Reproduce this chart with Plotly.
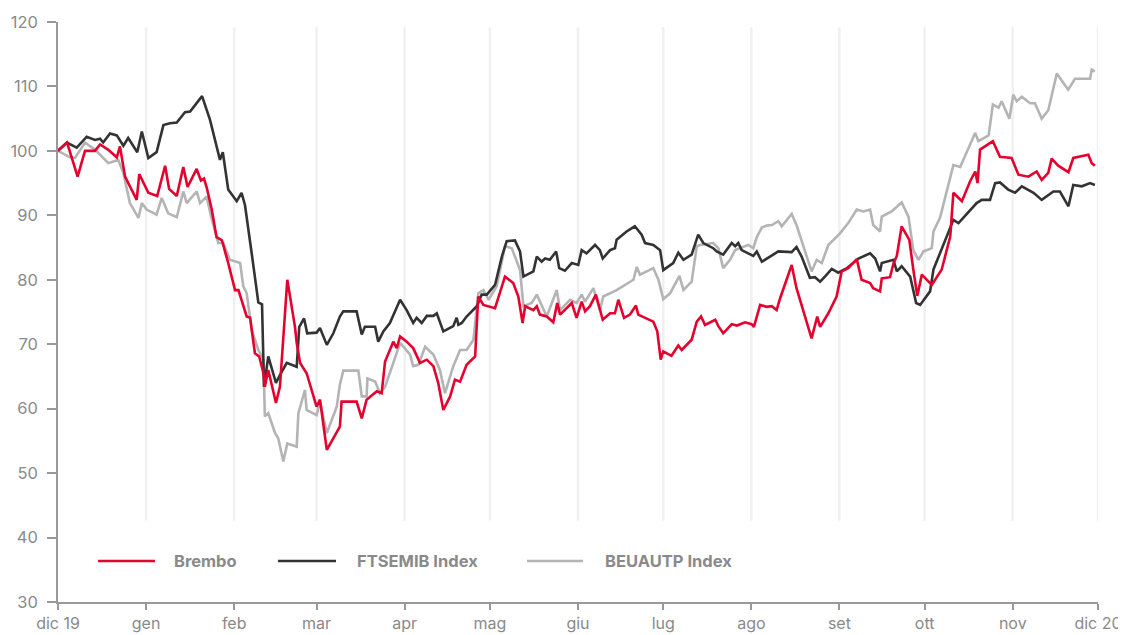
import pandas as pd
import plotly.graph_objects as go

BASE = pd.Timestamp("2019-12-01")

# days since 1 Dec 2019 / index value (base 100)
brembo_days = [0, 3.2, 6.9, 9.5, 13.0, 14.8, 17.6, 20.7, 21.8, 23.6, 27.7, 28.6, 31.8, 34.9, 37.7, 39.1, 41.8, 44.1, 45.6, 48.8, 50.3, 51.4, 52.4, 54.1, 55.8, 57.7, 59.9, 62.3, 63.5, 64.6, 66.4, 67.6, 69.3, 70.8, 72.3, 72.8, 74.0, 76.7, 78.1, 80.7, 83.4, 84.0, 85.2, 87.5, 91.0, 92.2, 94.6, 99.2, 99.8, 105.1, 106.9, 108.6, 112.2, 113.9, 115.1, 118.0, 119.2, 120.4, 122.7, 125.0, 127.4, 129.8, 132.1, 133.8, 135.6, 138.0, 139.7, 141.5, 143.8, 146.8, 147.9, 149.7, 153.8, 157.3, 160.2, 162.0, 163.5, 164.4, 167.3, 168.5, 169.6, 172.0, 174.3, 175.7, 176.7, 180.8, 182.5, 184.3, 185.5, 187.2, 189.3, 191.7, 194.3, 196.0, 197.2, 199.2, 201.3, 203.4, 204.2, 209.5, 210.9, 212.1, 213.0, 215.9, 218.3, 219.5, 223.0, 224.8, 226.3, 227.7, 231.3, 232.4, 234.1, 237.1, 238.9, 241.8, 244.1, 244.9, 247.1, 249.4, 251.2, 252.9, 254.1, 258.2, 259.9, 265.2, 267.2, 268.2, 271.1, 274.0, 275.8, 278.1, 281.1, 282.8, 285.8, 286.9, 289.3, 289.9, 292.8, 294.0, 295.2, 296.9, 299.6, 301.0, 302.4, 304.0, 307.5, 311.0, 314.0, 315.1, 318.1, 321.0, 322.8, 323.6, 324.5, 329.0, 331.5, 335.6, 338.0, 341.5, 344.4, 346.2, 348.5, 349.7, 352.0, 355.6, 357.3, 362.6, 363.8, 364.9]
brembo_vals = [100, 101.3, 96, 100, 100, 101, 100.2, 99, 100.7, 96, 92.4, 96.4, 93.5, 93, 97.7, 94.1, 93, 97.5, 94.4, 97.2, 95.4, 95.7, 94.2, 90.9, 86.6, 86.1, 82.6, 78.4, 78.4, 76.9, 74.3, 74.1, 68.6, 68.1, 65.5, 63.4, 66, 60.9, 63.4, 80, 72.7, 70.2, 67.1, 65.5, 60.3, 61.4, 53.6, 57.2, 61.1, 61.1, 58.5, 61.4, 62.7, 62.4, 67.3, 70.4, 69.4, 71.2, 70.4, 69.4, 67.1, 67.6, 66.6, 64, 59.8, 61.9, 64.5, 64.2, 66.8, 68.1, 77.4, 76.1, 75.6, 80.5, 79.5, 77.4, 73.3, 75.9, 75.3, 75.9, 74.6, 74.3, 73.4, 76.4, 74.6, 76.4, 74.1, 76.6, 75.1, 75.9, 77.7, 73.8, 74.8, 74.8, 76.9, 74.1, 74.6, 76, 74.6, 73.5, 72, 67.6, 68.9, 68.2, 69.8, 69.1, 70.7, 73.5, 74.3, 73, 73.8, 72.8, 71.7, 73.1, 72.9, 73.4, 73.1, 72.7, 76.1, 75.8, 75.9, 75.3, 77.1, 82.3, 78.7, 70.9, 74.3, 72.7, 74.8, 77.4, 81.3, 81.8, 83.2, 80, 79.5, 78.7, 78.2, 80.2, 80.4, 82.5, 83.7, 88.3, 86.2, 81.6, 77.5, 80.8, 79.2, 81.6, 86.7, 93.5, 92.2, 95.3, 96.8, 95, 100.2, 101.5, 99.1, 98.9, 96.3, 96, 96.8, 95.5, 96.6, 98.8, 97.7, 96.7, 98.9, 99.4, 98.1, 97.7]

ftsemib_days = [0, 3.1, 6.6, 10.1, 13.0, 14.8, 15.9, 18.3, 20.7, 23.0, 24.7, 27.9, 29.5, 31.8, 34.7, 37.1, 39.4, 41.8, 44.7, 46.5, 50.7, 53.5, 57.0, 58.0, 59.9, 62.9, 64.6, 65.8, 68.2, 70.5, 71.8, 72.5, 74.0, 76.7, 78.1, 80.5, 84.0, 84.9, 86.6, 87.7, 91.0, 92.2, 94.6, 96.9, 99.2, 100.4, 105.1, 106.9, 108.0, 111.6, 112.7, 114.5, 116.8, 120.4, 122.7, 125.0, 126.2, 128.0, 129.8, 132.1, 133.3, 135.6, 139.1, 140.3, 140.9, 142.1, 143.8, 147.4, 149.1, 150.9, 153.8, 156.2, 157.9, 160.8, 162.6, 163.8, 167.3, 168.5, 170.2, 171.4, 173.1, 175.3, 176.4, 178.4, 180.8, 183.1, 184.3, 186.0, 189.0, 190.7, 191.7, 194.3, 196.0, 196.6, 200.1, 203.0, 205.4, 206.6, 209.5, 211.9, 213.0, 216.5, 218.3, 220.1, 223.0, 225.3, 227.1, 230.6, 231.8, 234.1, 237.1, 238.3, 239.4, 240.6, 244.7, 245.9, 247.7, 250.6, 253.5, 258.2, 259.9, 261.7, 264.6, 266.4, 268.2, 269.9, 272.3, 274.6, 277.6, 281.7, 285.8, 287.6, 289.3, 289.9, 294.0, 295.2, 296.9, 299.9, 302.0, 303.4, 306.9, 308.1, 310.4, 315.1, 316.9, 323.3, 325.1, 328.0, 329.8, 331.5, 334.4, 336.8, 339.2, 343.3, 346.2, 350.3, 352.6, 355.6, 357.3, 360.3, 363.2, 364.9]
ftsemib_vals = [100, 101.3, 100.5, 102.2, 101.7, 101.9, 101.3, 102.7, 102.4, 100.8, 102, 99.8, 103, 98.9, 99.8, 104, 104.3, 104.4, 106, 106.1, 108.5, 104.8, 98.6, 99.8, 94, 92.2, 93.5, 91.6, 84, 76.5, 76.2, 63.4, 68.1, 64, 65.2, 67.1, 66.5, 72.7, 74, 71.7, 71.8, 72.5, 69.9, 71.7, 74.3, 75.1, 75.1, 71.5, 72.7, 72.7, 70.4, 72, 73.3, 76.9, 75.3, 73.3, 74.1, 73.3, 74.4, 74.4, 74.8, 72, 72.8, 74.1, 73, 73.3, 74.3, 75.9, 77.7, 77.7, 79.2, 83.6, 86, 86.1, 84.4, 80.5, 81.3, 83.6, 82.8, 83.3, 83.1, 84.4, 81.8, 81.4, 82.6, 82.3, 84.6, 84.1, 85.4, 84.6, 83.3, 84.6, 84.9, 86.2, 87.5, 88.3, 87, 85.7, 85.4, 84.6, 81.5, 82.6, 84.2, 83.1, 83.9, 87, 85.7, 84.9, 84.4, 83.9, 85.7, 85.2, 85.7, 84.6, 83.7, 84.4, 82.8, 83.6, 84.4, 84.3, 85.1, 83.6, 80.3, 80.4, 79.7, 80.5, 81.7, 81.1, 81.8, 83.3, 84.1, 83.3, 81.3, 82.6, 83.1, 81.3, 82.1, 80.5, 76.4, 76.1, 78.2, 81.6, 84.2, 89.3, 88.8, 91.9, 92.4, 92.4, 95, 95.1, 94, 93.5, 94.5, 93.5, 92.4, 93.7, 93.7, 91.4, 94.7, 94.5, 95, 94.7]

beuautp_days = [0, 4.2, 6.0, 9.5, 13.0, 17.7, 21.2, 23.0, 25.3, 28.3, 29.5, 31.2, 34.7, 36.5, 38.8, 41.8, 44.1, 45.3, 48.8, 50.0, 52.3, 53.8, 56.4, 58.2, 60.5, 64.1, 65.2, 66.4, 68.2, 70.5, 72.3, 72.8, 74.0, 76.4, 77.5, 79.3, 80.7, 84.0, 84.6, 86.9, 87.5, 91.0, 92.2, 94.6, 98.1, 99.2, 100.4, 105.7, 106.9, 108.6, 108.9, 111.6, 113.3, 115.1, 118.0, 120.4, 123.9, 125.0, 126.8, 129.2, 132.1, 134.4, 136.2, 139.1, 141.5, 143.8, 146.2, 147.9, 149.7, 151.5, 154.4, 157.3, 159.7, 162.6, 163.8, 166.7, 168.5, 172.0, 175.5, 176.7, 180.2, 182.5, 184.3, 185.5, 188.4, 190.7, 191.9, 196.6, 202.5, 203.7, 204.8, 209.5, 211.3, 213.0, 215.4, 218.7, 220.1, 223.0, 224.8, 225.9, 230.6, 232.4, 234.1, 236.5, 238.3, 242.9, 244.7, 245.9, 247.7, 249.4, 251.2, 253.5, 254.7, 258.2, 259.9, 265.2, 267.0, 268.8, 271.1, 275.2, 278.1, 281.1, 283.4, 285.8, 286.9, 289.3, 289.9, 293.4, 296.9, 299.3, 301.0, 302.8, 304.6, 307.5, 308.1, 310.4, 315.1, 317.5, 322.8, 323.9, 327.5, 329.0, 331.0, 332.1, 334.8, 336.2, 337.4, 339.2, 342.1, 343.8, 346.2, 348.5, 351.5, 355.5, 357.9, 363.2, 363.8, 364.9]
beuautp_vals = [100, 99, 98.9, 101.3, 100.2, 98.1, 98.6, 96.6, 91.9, 89.6, 91.9, 90.9, 90.1, 92.7, 90.3, 89.7, 93.7, 91.9, 93.7, 91.9, 92.9, 90, 85.7, 85.7, 83.1, 82.6, 79, 77.9, 72.2, 69.1, 67.6, 58.8, 59.3, 56.2, 55.4, 51.8, 54.6, 54.1, 59.3, 62.9, 59.8, 59, 61.1, 56.2, 60.3, 63.7, 65.9, 65.9, 61.9, 61.9, 64.7, 64.2, 62.4, 63.4, 67.1, 70.2, 68.4, 66.6, 66.8, 69.6, 68.4, 66, 62.4, 66.6, 69.1, 69.1, 70.7, 77.9, 78.4, 76.9, 79, 85.2, 84.9, 81.5, 75.9, 76.4, 77.7, 74.3, 78.4, 75.3, 76.9, 76.4, 77.7, 76.6, 78.7, 75.3, 77.4, 78.4, 80, 82, 80.8, 81.8, 80, 77, 77.9, 80.6, 78.4, 79.7, 85.2, 85.4, 85.7, 84.9, 81.8, 83.1, 84.6, 85.4, 84.9, 86.6, 88.1, 88.4, 88.5, 89.1, 88.3, 90.2, 88.5, 81.3, 83.1, 82.6, 85.4, 87.2, 88.8, 90.9, 90.6, 90.9, 88.5, 87.5, 89.8, 90.6, 92, 89.8, 84.6, 83.1, 84.4, 84.9, 87.5, 89.6, 97.8, 97.5, 102.8, 101.5, 102.4, 107.2, 106.7, 107.7, 105, 108.7, 107.7, 108.4, 107.4, 107.4, 105, 106.3, 112, 109.5, 111.2, 111.2, 112.6, 112.3]

month_ticks = pd.date_range("2019-12-01", "2020-12-01", freq="MS")
month_labels = ["dic 19", "gen", "feb", "mar", "apr", "mag", "giu", "lug", "ago", "set", "ott", "nov", "dic 20"]
y_ticks = [30, 40, 50, 60, 70, 80, 90, 100, 110, 120]

series = [
    ("Brembo", brembo_days, brembo_vals, "#E4032E"),
    ("FTSEMIB Index", ftsemib_days, ftsemib_vals, "#333333"),
    ("BEUAUTP Index", beuautp_days, beuautp_vals, "#B4B4B4"),
]

FONT = "Inter, Roboto, sans-serif"
TXT = "#8a8a8a"

fig = go.Figure()
# draw order: gray, black, red on top
for name, days, vals, col in [series[2], series[1], series[0]]:
    x = BASE + pd.to_timedelta(days, unit="D")
    fig.add_trace(go.Scatter(x=x, y=vals, mode="lines", name=name,
                             line=dict(color=col, width=2.6), showlegend=False))

shapes = []
for d in month_ticks[1:]:
    shapes.append(dict(type="line", xref="x", yref="y", x0=d, x1=d, y0=42.6, y1=119.2,
                       line=dict(color="#f0f0f0", width=2.5), layer="below"))

# manual legend
leg_items = [(0.0385, 0.0933, 0.1096, series[0]), (0.2115, 0.2673, 0.2856, series[1]),
             (0.451, 0.5048, 0.524, series[2])]
annotations = []
for x0, x1, xt, s in leg_items:
    shapes.append(dict(type="line", xref="paper", yref="paper", x0=x0, x1=x1, y0=0.0707, y1=0.0707,
                       line=dict(color=s[3], width=2.6)))
    annotations.append(dict(xref="paper", yref="paper", x=xt, y=0.0707, text="<b>%s</b>" % s[0],
                            showarrow=False, xanchor="left", yanchor="middle",
                            font=dict(family=FONT, size=16.5, color=TXT)))

# page body adds an 8px offset; figure sized so the plot area lands where the reference has it
fig.update_layout(
    width=1118, height=627,
    margin=dict(l=50, r=28, t=14, b=33),
    paper_bgcolor="white", plot_bgcolor="white",
    shapes=shapes, annotations=annotations,
    font=dict(family=FONT, color=TXT),
    xaxis=dict(range=[month_ticks[0], month_ticks[-1]], tickvals=month_ticks, ticktext=month_labels,
               showgrid=False, zeroline=False, showline=True, linecolor="#999999", linewidth=1.5,
               ticks="outside", ticklen=6, tickcolor="#999999", tickwidth=1.5, automargin=False,
               tickfont=dict(family=FONT, size=16, color=TXT)),
    yaxis=dict(range=[30, 120], tickvals=y_ticks, showgrid=False, zeroline=False,
               showline=True, linecolor="#999999", linewidth=1.5, automargin=False,
               ticks="outside", ticklen=9, tickcolor="#999999", tickwidth=1.5,
               ticklabelstandoff=6,
               tickfont=dict(family=FONT, size=16.5, color=TXT)),
)

fig.write_html("out.html")
